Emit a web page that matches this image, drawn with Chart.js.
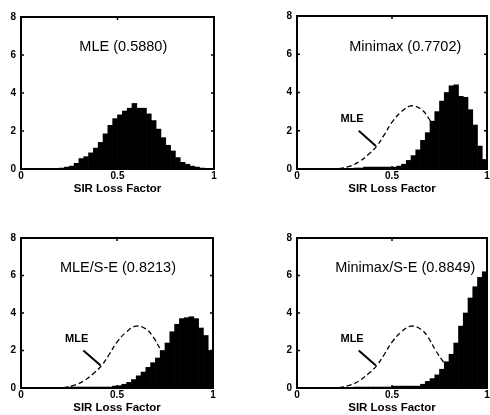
<!DOCTYPE html>
<html>
<head>
<meta charset="utf-8">
<script src="https://cdn.jsdelivr.net/npm/chart.js@4/dist/chart.umd.min.js"></script>
<style>
  body { margin: 0; background: #fff; width: 490px; height: 415px; position: relative; overflow: hidden; }
  canvas { position: absolute; }
</style>
</head>
<body>
<canvas id="mle"></canvas>
<canvas id="minimax"></canvas>
<canvas id="mleSE"></canvas>
<canvas id="minimaxSE"></canvas>
<script>
// bin centres of the histograms (bin width 0.025)
const binCenters = Array.from({ length: 40 }, (_v, i) => +(0.0125 + i * 0.025).toFixed(4));

// density, one value per bin
const mleHist = [
  0, 0, 0, 0, 0, 0, 0, 0.02, 0.05, 0.1,
  0.15, 0.3, 0.55, 0.65, 0.85, 1.1, 1.4, 1.85, 2.3, 2.65,
  2.85, 3.05, 3.2, 3.45, 3.2, 3.2, 2.9, 2.55, 2.1, 1.65,
  1.25, 0.95, 0.6, 0.35, 0.25, 0.15, 0.1, 0.05, 0, 0,
];
const minimaxHist = [
  0, 0, 0, 0, 0, 0, 0, 0, 0, 0,
  0, 0, 0.05, 0.05, 0.1, 0.1, 0.1, 0.1, 0.1, 0.1,
  0.1, 0.15, 0.25, 0.45, 0.7, 1.0, 1.5, 1.9, 2.5, 3.0,
  3.55, 4.0, 4.35, 4.4, 3.8, 3.75, 3.1, 2.3, 1.2, 0.5,
];
const mleSEHist = [
  0, 0, 0, 0, 0, 0, 0, 0, 0, 0,
  0.05, 0.05, 0.05, 0.05, 0.05, 0.05, 0.05, 0.05, 0.05, 0.1,
  0.12, 0.2, 0.3, 0.45, 0.65, 0.85, 1.1, 1.35, 1.6, 2.0,
  2.4, 3.0, 3.4, 3.7, 3.75, 3.8, 3.7, 3.2, 2.8, 2.0,
];
const minimaxSEHist = [
  0, 0, 0, 0, 0, 0, 0, 0, 0, 0,
  0, 0, 0.05, 0.05, 0.05, 0.05, 0.05, 0.05, 0.05, 0.05,
  0.1, 0.1, 0.1, 0.1, 0.1, 0.1, 0.2, 0.35, 0.5, 0.7,
  1.0, 1.4, 1.8, 2.4, 3.3, 4.0, 4.8, 5.4, 5.9, 6.2,
];

// dashed MLE outline drawn behind the other histograms
const mleCurveX = [0.22, 0.28, 0.33, 0.38, 0.42, 0.46, 0.5, 0.55, 0.6, 0.65, 0.69, 0.73, 0.77, 0.81];
const mleCurveY = [0.02, 0.15, 0.4, 0.8, 1.2, 1.8, 2.45, 3.0, 3.3, 3.15, 2.7, 2.0, 1.4, 0.9];

const panelTitles = ["MLE (0.5880)", "Minimax (0.7702)", "MLE/S-E (0.8213)", "Minimax/S-E (0.8849)"];

const yTicks = [0, 2, 4, 6, 8];
const xTicks = [0, 0.5, 1];

// plot frames in page pixels: left, top, right, bottom
const panels = [
  { id: "mle", hist: mleHist, title: panelTitles[0], titleX: 0.53, curve: false, area: [21, 12, 214, 169] },
  { id: "minimax", hist: minimaxHist, title: panelTitles[1], titleX: 0.57, curve: true, area: [297, 11, 487, 169] },
  { id: "mleSE", hist: mleSEHist, title: panelTitles[2], titleX: 0.505, curve: true, area: [21, 233, 213, 388] },
  { id: "minimaxSE", hist: minimaxSEHist, title: panelTitles[3], titleX: 0.57, curve: true, area: [297, 233, 487, 388] },
];

const Y_AXIS_W = 21;
const X_AXIS_H = 30;
const PAD_TOP = 6;
const PAD_RIGHT = 4;

const framePlugin = {
  id: "frame",
  afterDatasetsDraw(chart, _args, opts) {
    const { ctx, chartArea: a, scales: { x, y } } = chart;
    ctx.save();
    // title inside the box
    ctx.fillStyle = "#000";
    ctx.font = "14.5px 'Liberation Sans', Arial, sans-serif";
    ctx.textAlign = "center";
    ctx.textBaseline = "middle";
    ctx.fillText(opts.title, x.getPixelForValue(opts.titleX), y.getPixelForValue(6.4));

    // MLE pointer
    if (opts.curve) {
      ctx.font = "bold 11px 'Liberation Sans', Arial, sans-serif";
      ctx.fillText("MLE", x.getPixelForValue(0.29), y.getPixelForValue(2.6));
      ctx.lineWidth = 2;
      ctx.strokeStyle = "#000";
      ctx.beginPath();
      ctx.moveTo(x.getPixelForValue(0.325), y.getPixelForValue(2.0));
      ctx.lineTo(x.getPixelForValue(0.415), y.getPixelForValue(1.2));
      ctx.stroke();
    }

    // box with inward ticks
    ctx.lineWidth = 2;
    ctx.strokeStyle = "#000";
    ctx.strokeRect(a.left, a.top, a.right - a.left, a.bottom - a.top);
    ctx.lineWidth = 1.5;
    ctx.beginPath();
    yTicks.slice(1, -1).forEach((v) => {
      const py = y.getPixelForValue(v);
      ctx.moveTo(a.left, py); ctx.lineTo(a.left + 3, py);
      ctx.moveTo(a.right, py); ctx.lineTo(a.right - 3, py);
    });
    xTicks.slice(1, -1).forEach((v) => {
      const px = x.getPixelForValue(v);
      ctx.moveTo(px, a.top); ctx.lineTo(px, a.top + 3);
      ctx.moveTo(px, a.bottom); ctx.lineTo(px, a.bottom - 3);
    });
    ctx.stroke();
    ctx.restore();
  },
};

const tickFont = { family: "'Liberation Sans', Arial, sans-serif", size: 10, weight: "bold" };

const initPanel = (panel) => {
  const [l, t, r, b] = panel.area;
  const canvas = document.getElementById(panel.id);
  const left = l - Y_AXIS_W;
  const top = t - PAD_TOP;
  canvas.width = r - left + PAD_RIGHT;
  canvas.height = b - top + X_AXIS_H;
  canvas.style.left = `${left}px`;
  canvas.style.top = `${top}px`;

  const datasets = [
    {
      type: "bar",
      data: panel.hist.map((v, i) => ({ x: binCenters[i], y: v })),
      backgroundColor: "#000",
      borderWidth: 0,
      barPercentage: 1,
      categoryPercentage: 1,
      order: 0,
    },
  ];
  if (panel.curve) {
    datasets.push({
      type: "line",
      data: mleCurveX.map((v, i) => ({ x: v, y: mleCurveY[i] })),
      borderColor: "#000",
      borderWidth: 1.3,
      borderDash: [5, 3],
      pointRadius: 0,
      tension: 0.4,
      fill: false,
      order: 1,
    });
  }

  return new Chart(canvas.getContext("2d"), {
    type: "bar",
    data: { datasets },
    plugins: [framePlugin],
    options: {
      responsive: false,
      animation: false,
      layout: { padding: { top: PAD_TOP, right: PAD_RIGHT, left: 0, bottom: 0 } },
      plugins: {
        legend: { display: false },
        tooltip: { enabled: false },
        frame: { title: panel.title, titleX: panel.titleX, curve: panel.curve },
      },
      scales: {
        x: {
          type: "linear",
          min: 0,
          max: 1,
          offset: false,
          afterFit: (scale) => { scale.height = X_AXIS_H; },
          afterBuildTicks: (scale) => { scale.ticks = xTicks.map((value) => ({ value })); },
          grid: { display: false, drawTicks: false, offset: false },
          border: { display: false },
          ticks: {
            color: "#000",
            font: tickFont,
            padding: 1,
            maxRotation: 0,
            callback: (v) => String(v),
          },
          title: {
            display: true,
            text: "SIR Loss Factor",
            color: "#000",
            font: { family: "'Liberation Sans', Arial, sans-serif", size: 11.5, weight: "bold" },
            padding: { top: 0, bottom: 3 },
          },
        },
        y: {
          min: 0,
          max: 8,
          afterFit: (scale) => { scale.width = Y_AXIS_W; },
          afterBuildTicks: (scale) => { scale.ticks = yTicks.map((value) => ({ value })); },
          grid: { display: false, drawTicks: false },
          border: { display: false },
          ticks: { color: "#000", font: tickFont, padding: 5 },
        },
      },
    },
  });
};

panels.forEach(initPanel);
</script>
</body>
</html>
